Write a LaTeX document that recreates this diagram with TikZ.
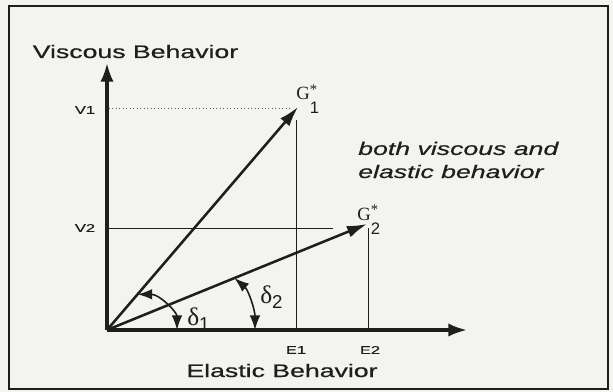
\documentclass[tikz,border=0pt]{standalone}
\usepackage{fontspec}
\setmainfont{Liberation Sans}
\newfontfamily\lblfont[FakeStretch=1.47,FakeBold=0.6]{Liberation Sans}
\newfontfamily\gfont{Liberation Serif}
\usepackage{xcolor}
\definecolor{paper}{RGB}{243,243,239}
\definecolor{ink}{RGB}{30,30,30}
\usepackage{tikz}
\usetikzlibrary{arrows.meta,calc}
\tikzset{
  dg_axis/.style={draw=ink,line width=2.4pt,-{Latex[length=14pt,width=10pt]}},
  dg_vec/.style={draw=ink,line width=1.9pt,-{Latex[length=15pt,width=9pt]}},
  dg_guide/.style={draw=ink,line width=0.7pt},
  dg_dot/.style={draw=ink!70,line width=0.6pt,dotted},
  dg_angle/.style={draw=ink,line width=1.2pt,
    {Latex[length=11pt,width=8pt]}-{Latex[length=11pt,width=8pt]}},
  dg_title/.style={font=\lblfont\fontsize{13.6}{16}\selectfont,text=ink,inner sep=0pt},
  dg_tick/.style={font=\lblfont\fontsize{8.4}{9}\selectfont,text=ink,inner sep=0pt},
  dg_note/.style={font=\lblfont\itshape\fontsize{13.6}{17.3}\selectfont,text=ink,
    align=left,inner sep=0pt},
  dg_sym/.style={text=ink,inner sep=0pt},
}
\newcommand\gstar[1]{{\gfont\fontsize{14}{14}\selectfont G}%
  \raisebox{-10.5pt}{\shortstack[l]{{\gfont\fontsize{11}{11}\selectfont *}\\[3pt]%
    {\fontsize{12.5}{12.5}\selectfont #1}}}}
\newcommand\dangle[1]{{\gfont\fontsize{19}{19}\selectfont δ}%
  \raisebox{-4pt}{\fontsize{14}{14}\selectfont #1}}

\begin{document}
\begin{tikzpicture}[x=0.75pt,y=-0.75pt]
  \fill[paper] (0,0) rectangle (613,392);
  \useasboundingbox (0,0) rectangle (613,392);
  \draw[ink,line width=1.5pt] (9,6) rectangle (608,389);

  % axes and end points
  \coordinate (O) at (107,330);
  \coordinate (xend) at (467,330);
  \coordinate (yend) at (107,63);
  \coordinate (G1) at (298,107);
  \coordinate (G2) at (367,224);

  % guide lines
  \coordinate (v1a) at (109,108); \coordinate (v1b) at (292,108);
  \coordinate (v2a) at (109,228); \coordinate (v2b) at (333,228);
  \coordinate (e1a) at (296,120); \coordinate (e1b) at (296,330);
  \coordinate (e2a) at (368,228); \coordinate (e2b) at (368,330);
  \draw[dg_dot] (v1a) -- (v1b);
  \draw[dg_guide] (v2a) -- (v2b);
  \draw[dg_guide] (e1a) -- (e1b);
  \draw[dg_guide] (e2a) -- (e2b);

  \draw[dg_axis] (O) -- (xend);
  \draw[dg_axis] (O) -- (yend);
  \draw[dg_vec] (O) -- (G1);
  \draw[dg_vec] (O) -- (G2);

  % phase angles
  \coordinate (d1a) at ($(O)!0.16!(G1)$);
  \coordinate (d1b) at (177,330);
  \coordinate (d2a) at ($(O)!0.49!(G2)$);
  \coordinate (d2b) at (255,330);
  \draw[dg_angle] (d1a) .. controls +(22,0) and +(0,-18) .. (d1b);
  \draw[dg_angle] (d2a) .. controls +(14,12) and +(0,-20) .. (d2b);

  % labels
  \node (ytitle) [dg_title,anchor=base] at (135.5,58) {Viscous Behavior};
  \node (xtitle) [dg_title,anchor=base] at (282,377) {Elastic Behavior};
  \node (v1) [dg_tick] at (85,110) {V1};
  \node (v2) [dg_tick] at (85,228) {V2};
  \node (e1) [dg_tick] at (296,350) {E1};
  \node (e2) [dg_tick] at (370,350) {E2};
  \node (g1) [dg_sym,anchor=base west] at (296,100) {\gstar{1}};
  \node (g2) [dg_sym,anchor=base west] at (357,220) {\gstar{2}};
  \node (dl1) [dg_sym,anchor=base west] at (187,325) {\dangle{1}};
  \node (dl2) [dg_sym,anchor=base west] at (260,303) {\dangle{2}};
  \node (note) [dg_note,anchor=base west] at (358,178)
    {both viscous and\\elastic behavior};
\end{tikzpicture}
\end{document}
